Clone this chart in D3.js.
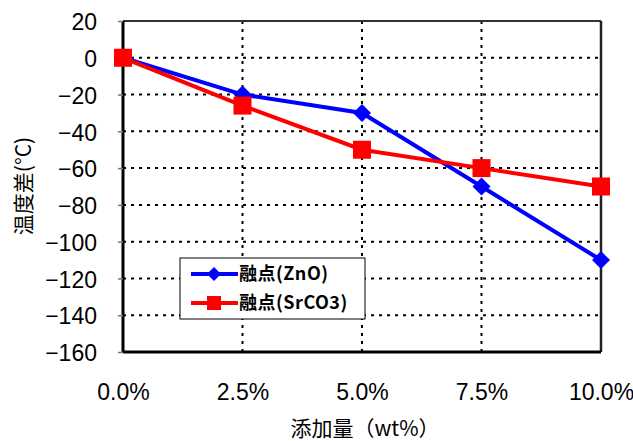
<!DOCTYPE html>
<html><head><meta charset="utf-8">
<script src="https://cdn.jsdelivr.net/npm/d3@7"></script>
<style>body{margin:0;background:#fff}svg{display:block}</style>
</head><body>
<svg id="c" width="633" height="441"></svg>
<script>
const categories = [0, 2.5, 5.0, 7.5, 10.0];
const xTickLabels = ["0.0%", "2.5%", "5.0%", "7.5%", "10.0%"];
const yTicks = [20, 0, -20, -40, -60, -80, -100, -120, -140, -160];
const seriesNames = ["融点(ZnO)", "融点(SrCO3)"];
const znoValues = [0, -20, -30, -70, -110];
const srco3Values = [0, -26, -50, -60, -70];
const colors = ["#0000ff", "#ff0000"];

const svg = d3.select("#c");
const L = 123, R = 601, T = 21, B = 352;
const x = d3.scaleLinear().domain([0, 10]).range([L, R]);
const y = d3.scaleLinear().domain([-160, 20]).range([B, T]);
const font = "'Liberation Sans Narrow', 'Arial Narrow', 'Liberation Sans', sans-serif";
const jfont = "'Noto Sans CJK JP', sans-serif";

// grid
const g = svg.append("g");
g.selectAll("line.h").data(yTicks.filter(d => d > -160 && d < 20)).join("line")
  .attr("x1", L).attr("x2", R).attr("y1", d => y(d)).attr("y2", d => y(d))
  .attr("stroke", "#000").attr("stroke-width", 2).attr("stroke-dasharray", "3,5");
g.selectAll("line.v").data(categories.slice(1, 4)).join("line")
  .attr("x1", d => x(d)).attr("x2", d => x(d)).attr("y1", T).attr("y2", B)
  .attr("stroke", "#000").attr("stroke-width", 2).attr("stroke-dasharray", "3,5");

// border top/right
svg.append("line").attr("x1", L).attr("x2", R).attr("y1", T).attr("y2", T).attr("stroke", "#333").attr("stroke-width", 2);
svg.append("line").attr("x1", R).attr("x2", R).attr("y1", T).attr("y2", B).attr("stroke", "#222").attr("stroke-width", 2.5);

// axes
const yAxis = d3.axisLeft(y).tickValues(yTicks).tickSize(5).tickFormat(d => d < 0 ? "\u2212" + Math.abs(d) : d);
const ya = svg.append("g").attr("transform", `translate(${L},0)`).call(yAxis);
ya.select(".domain").attr("stroke-width", 3).attr("d", `M0,${T}V${B}`);
ya.selectAll(".tick line").attr("stroke", "#777").attr("stroke-width", 1.5);
ya.selectAll("text").attr("font-family", font).attr("font-size", 23).attr("fill", "#000").attr("x", -26).attr("dy", "0.38em");

const xAxis = d3.axisBottom(x).tickValues(categories).tickSize(0).tickFormat((d, i) => xTickLabels[i]);
const xa = svg.append("g").attr("transform", `translate(0,${B})`).call(xAxis);
xa.select(".domain").attr("stroke-width", 3).attr("d", `M${L},0H${R}`);
xa.selectAll("text").attr("font-family", font).attr("font-size", 23).attr("fill", "#000").attr("y", 32).attr("dy", "0.71em");

// titles
svg.append("text").attr("x", 365).attr("y", 428).attr("dy", "0.36em").attr("text-anchor", "middle")
  .attr("font-family", jfont).attr("font-size", 21).text("添加量（wt%）");
svg.append("text").attr("transform", `translate(23,186) rotate(-90)`).attr("dy", "0.36em").attr("text-anchor", "middle")
  .attr("font-family", jfont).attr("font-size", 21).text("温度差(°C)");

// lines
const line = d3.line().x((d, i) => x(categories[i])).y(d => y(d));
const data = [znoValues, srco3Values];
data.forEach((vals, k) => {
  svg.append("path").attr("d", line(vals)).attr("fill", "none").attr("stroke", colors[k]).attr("stroke-width", 4);
});
// markers
svg.selectAll("path.dia").data(znoValues).join("path")
  .attr("transform", (d, i) => `translate(${x(categories[i])},${y(d)})`)
  .attr("d", "M0,-9L9,0L0,9L-9,0Z").attr("fill", colors[0]);
svg.selectAll("rect.sq").data(srco3Values).join("rect")
  .attr("x", (d, i) => x(categories[i]) - 9).attr("y", d => y(d) - 9)
  .attr("width", 18).attr("height", 18).attr("fill", colors[1]);

// legend
const lg = svg.append("g").attr("transform", "translate(180,258)");
lg.append("rect").attr("width", 185).attr("height", 61).attr("fill", "#fff").attr("stroke", "#000").attr("stroke-width", 1);
seriesNames.forEach((n, k) => {
  const yy = 16 + k * 29;
  lg.append("line").attr("x1", 11).attr("x2", 58).attr("y1", yy).attr("y2", yy).attr("stroke", colors[k]).attr("stroke-width", 4);
  if (k === 0) lg.append("path").attr("transform", `translate(34,${yy})`).attr("d", "M0,-7L7,0L0,7L-7,0Z").attr("fill", colors[0]);
  else lg.append("rect").attr("x", 27).attr("y", yy - 7).attr("width", 14).attr("height", 14).attr("fill", colors[1]);
  lg.append("text").attr("x", 59).attr("y", yy).attr("dy", "0.36em").attr("font-family", jfont)
    .attr("font-weight", "bold").attr("font-size", 18).attr("letter-spacing", 0.5).text(n);
});
</script>
</body></html>
